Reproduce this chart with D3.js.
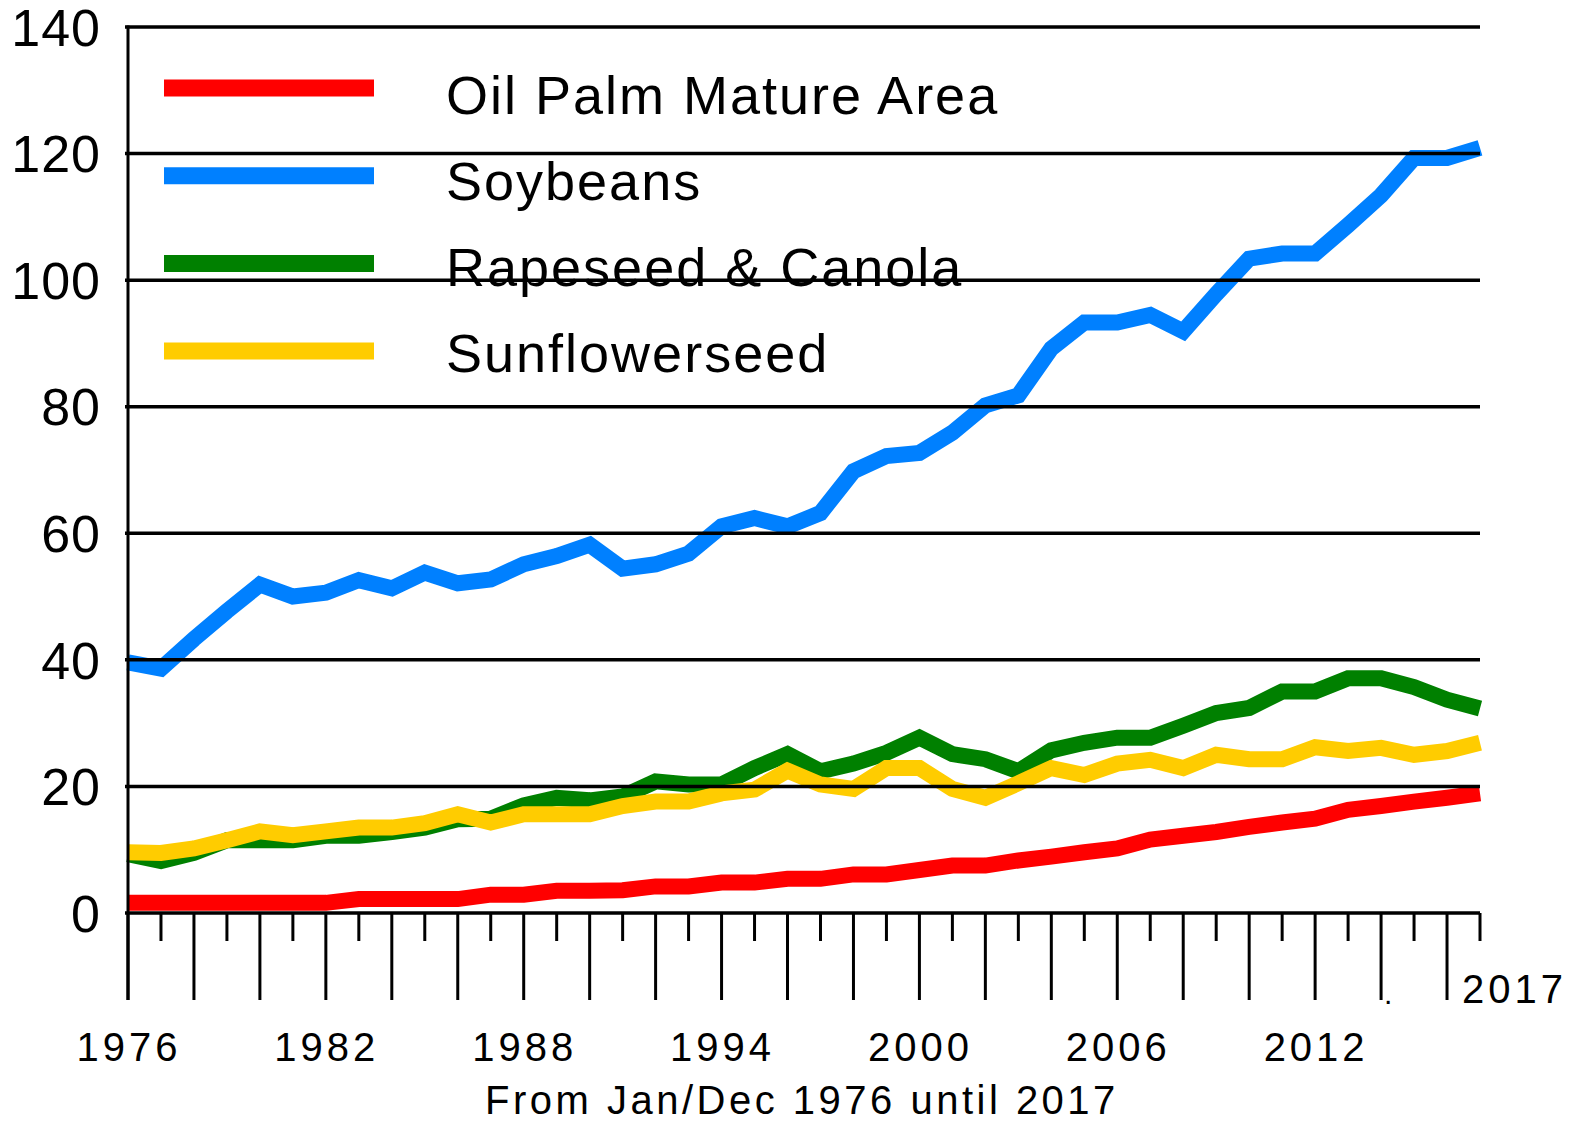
<!DOCTYPE html>
<html>
<head>
<meta charset="utf-8">
<script src="https://cdn.jsdelivr.net/npm/d3@7/dist/d3.min.js"></script>
<style>
    body { margin: 0; background: #fff; }
    text { font-family: "Liberation Sans", Arial, sans-serif; fill: #000; }
</style>
</head>
<body>
<div id="chart"></div>
<script>

var years = [1976, 1977, 1978, 1979, 1980, 1981, 1982, 1983, 1984, 1985, 1986, 1987, 1988, 1989,
    1990, 1991, 1992, 1993, 1994, 1995, 1996, 1997, 1998, 1999, 2000, 2001, 2002, 2003,
    2004, 2005, 2006, 2007, 2008, 2009, 2010, 2011, 2012, 2013, 2014, 2015, 2016, 2017];

var oilPalm = [1.6, 1.6, 1.6, 1.6, 1.6, 1.6, 1.6, 2.2, 2.2, 2.2, 2.2, 2.9, 2.9, 3.5,
    3.5, 3.6, 4.2, 4.2, 4.8, 4.8, 5.4, 5.4, 6.1, 6.1, 6.8, 7.5, 7.5, 8.3,
    8.9, 9.6, 10.2, 11.6, 12.2, 12.8, 13.6, 14.3, 14.9, 16.3, 16.9, 17.6, 18.2, 18.9];

var soybeans = [39.6, 38.6, 43.3, 47.7, 51.9, 50.0, 50.6, 52.6, 51.3, 53.8, 52.1, 52.7, 55.1, 56.4,
    58.2, 54.4, 55.1, 56.8, 61.1, 62.4, 61.1, 63.2, 69.8, 72.2, 72.7, 75.9, 80.2, 81.8,
    89.2, 93.3, 93.3, 94.5, 91.9, 97.8, 103.4, 104.2, 104.2, 108.7, 113.4, 119.3, 119.3, 120.9];

var rapeseed = [9.3, 8.2, 9.5, 11.5, 11.5, 11.5, 12.2, 12.2, 12.8, 13.5, 14.8, 14.9, 17.0, 18.2,
    17.8, 18.4, 20.8, 20.3, 20.3, 22.9, 25.1, 22.4, 23.6, 25.3, 27.7, 25.1, 24.3, 22.4,
    25.7, 26.9, 27.7, 27.7, 29.6, 31.6, 32.4, 35.0, 35.0, 37.1, 37.1, 35.7, 33.7, 32.3];

var sunflower = [9.6, 9.5, 10.2, 11.5, 12.9, 12.3, 12.9, 13.5, 13.5, 14.2, 15.6, 14.3, 15.6, 15.6,
    15.6, 16.9, 17.6, 17.6, 18.9, 19.5, 22.5, 20.3, 19.6, 22.9, 22.9, 19.6, 18.2, 20.5,
    22.9, 21.8, 23.6, 24.2, 22.9, 25.0, 24.3, 24.3, 26.2, 25.6, 26.1, 25.0, 25.6, 26.9];

var seriesNames = ["Oil Palm Mature Area", "Soybeans", "Rapeseed & Canola", "Sunflowerseed"];
var seriesColors = ["#ff0000", "#0080ff", "#008000", "#ffcc00"];

var yTicks = [0, 20, 40, 60, 80, 100, 120, 140];
var xLabels = [1976, 1982, 1988, 1994, 2000, 2006, 2012];
var lastLabel = "2017";
var caption = "From Jan/Dec 1976 until 2017";

var env = {
    w: 1583,
    h: 1123,
    left: 128,
    right: 1480,
    top: 27,
    bottom: 913,
    lineWidth: 16
};

var svg = d3.select("#chart").append("svg")
    .attr("width", env.w)
    .attr("height", env.h);

var x = d3.scaleLinear().domain([1976, 2017]).range([env.left, env.right]);
var y = d3.scaleLinear().domain([0, 140]).range([env.bottom, env.top]);

var allSeries = [oilPalm, soybeans, rapeseed, sunflower];

// legend
var legend = svg.append("g");
seriesNames.forEach(function(name, i) {
    var ly = 88 + i * 87.7;
    legend.append("line")
        .attr("x1", 164).attr("x2", 374)
        .attr("y1", ly).attr("y2", ly)
        .style("stroke", seriesColors[i])
        .style("stroke-width", 17);
    legend.append("text")
        .attr("x", 446).attr("y", 114 + i * 86)
        .style("font-size", "54px")
        .style("letter-spacing", "2px")
        .text(name);
});

// series lines
var line = d3.line()
    .x(function(d, i) { return x(years[i]); })
    .y(function(d) { return y(d); });

svg.append("g").selectAll("path")
    .data(allSeries)
    .enter().append("path")
    .attr("d", line)
    .style("fill", "none")
    .style("stroke", function(d, i) { return seriesColors[i]; })
    .style("stroke-width", env.lineWidth)
    .style("stroke-linejoin", "miter")
    .style("stroke-linecap", "butt");

// gridlines (drawn on top, like the original)
svg.append("g").selectAll("line")
    .data(yTicks)
    .enter().append("line")
    .attr("x1", env.left - 3)
    .attr("x2", env.right)
    .attr("y1", function(d) { return y(d); })
    .attr("y2", function(d) { return y(d); })
    .style("stroke", "#000")
    .style("stroke-width", 3.5);

// y axis line
svg.append("line")
    .attr("x1", env.left).attr("x2", env.left)
    .attr("y1", env.top - 1.5).attr("y2", 1000)
    .style("stroke", "#000")
    .style("stroke-width", 3);

// y labels
svg.append("g").selectAll("text")
    .data(yTicks)
    .enter().append("text")
    .attr("x", 101)
    .attr("y", function(d) { return y(d); })
    .attr("dy", "0.36em")
    .attr("text-anchor", "end")
    .style("font-size", "52px")
    .style("letter-spacing", "1px")
    .text(function(d) { return d; });

// x ticks, every year, alternating long / short
svg.append("g").selectAll("line")
    .data(years)
    .enter().append("line")
    .attr("x1", function(d) { return x(d); })
    .attr("x2", function(d) { return x(d); })
    .attr("y1", env.bottom)
    .attr("y2", function(d, i) { return i % 2 === 0 ? 1000 : 941; })
    .style("stroke", "#000")
    .style("stroke-width", 3);

// x labels
svg.append("g").selectAll("text")
    .data(xLabels)
    .enter().append("text")
    .attr("x", function(d) { return x(d) + 1; })
    .attr("y", 1061)
    .attr("text-anchor", "middle")
    .style("font-size", "40px")
    .style("letter-spacing", "4px")
    .text(function(d) { return d; });

svg.append("text")
    .attr("x", 1462).attr("y", 1003)
    .style("font-size", "40px")
    .style("letter-spacing", "4px")
    .text(lastLabel);

svg.append("text")
    .attr("x", 1384).attr("y", 1004)
    .style("font-size", "30px")
    .text(".");

svg.append("text")
    .attr("x", 485).attr("y", 1114)
    .style("font-size", "40px")
    .style("letter-spacing", "3.5px")
    .text(caption);

</script>
</body>
</html>
